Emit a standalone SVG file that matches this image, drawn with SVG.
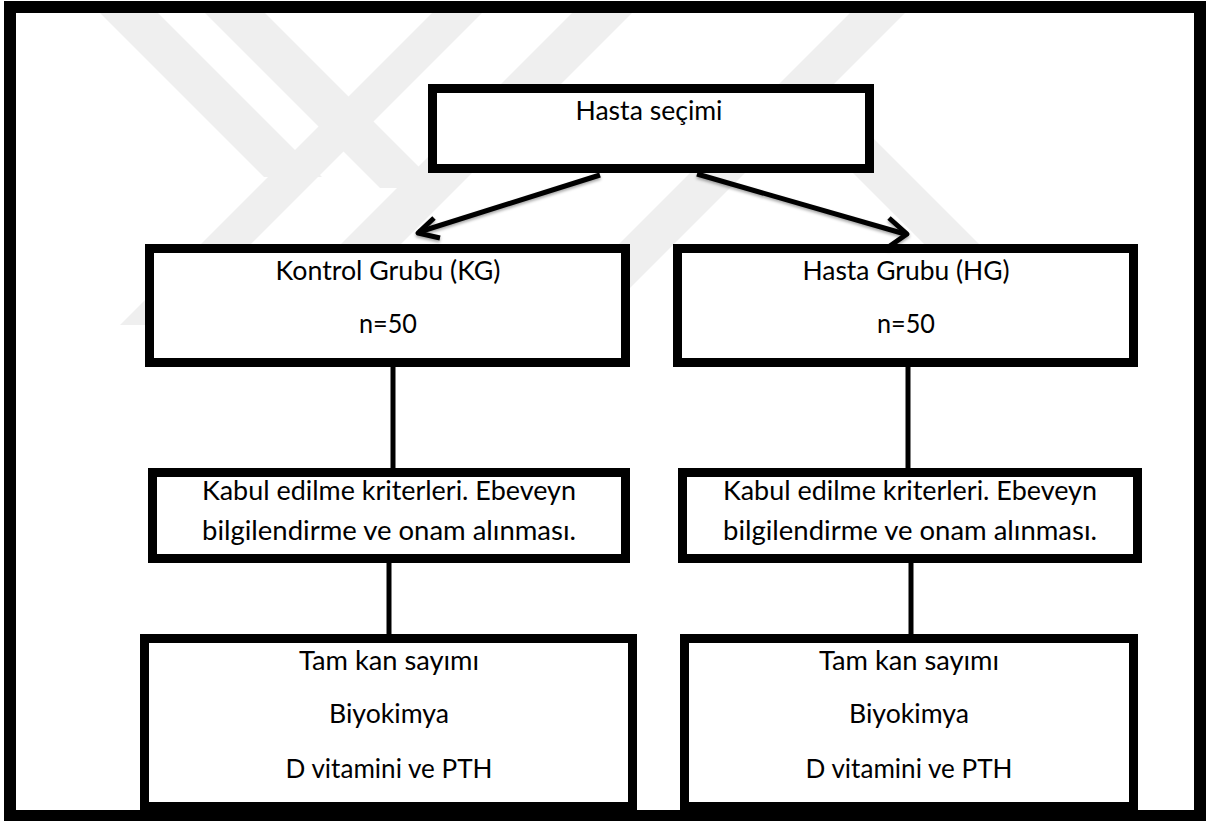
<svg xmlns="http://www.w3.org/2000/svg" width="1211" height="821" viewBox="0 0 1211 821">
<style>
.box{fill:#fff;stroke:#000;stroke-width:9}
.frame{fill:#fff;stroke:#000;stroke-width:12}
.wm{fill:#efefef}
.t{font-family:Lato,"Liberation Sans",sans-serif;font-size:26.5px;fill:#000;text-anchor:middle}
.c{stroke:#000;fill:none;stroke-width:5;stroke-linejoin:round}
</style>
<defs>
<clipPath id="inner"><rect x="16" y="13" width="1178" height="312"/></clipPath>
<filter id="sh" x="-10%" y="-30%" width="120%" height="160%">
<feDropShadow dx="0" dy="2" stdDeviation="1.5" flood-color="#000" flood-opacity="0.35"/>
</filter>
</defs>
<rect class="frame" x="10" y="7" width="1190" height="809"/>
<g id="watermark" clip-path="url(#inner)">
<polygon class="wm" points="432,13 482,13 170,325 120,325"/>
<polygon class="wm" points="100,13 158,13 322,177 264,177"/>
<polygon class="wm" points="572,13 632,13 320,325 260,325"/>
<polygon class="wm" points="205,13 265,13 440,188 380,188"/>
<polygon class="wm" points="850,13 905,13 593,325 538,325"/>
<polygon class="wm" points="790,110 845,110 1060,325 1005,325"/>
</g>
<g id="n-hasta-secimi">
<rect class="box" x="432.5" y="88.5" width="437" height="80"/>
<text class="t" x="649" y="120" textLength="147" lengthAdjust="spacingAndGlyphs">Hasta seçimi</text>
</g>
<g id="n-kg">
<rect class="box" x="149.5" y="248.5" width="476" height="114"/>
<text class="t" x="388" y="280" textLength="225" lengthAdjust="spacingAndGlyphs">Kontrol Grubu (KG)</text>
<text class="t" x="388" y="333" textLength="58" lengthAdjust="spacingAndGlyphs">n=50</text>
</g>
<g id="n-hg">
<rect class="box" x="677.5" y="248.5" width="456" height="114"/>
<text class="t" x="906" y="280" textLength="207" lengthAdjust="spacingAndGlyphs">Hasta Grubu (HG)</text>
<text class="t" x="906" y="333" textLength="58" lengthAdjust="spacingAndGlyphs">n=50</text>
</g>
<g id="n-kabul-kg">
<rect class="box" x="152.5" y="472.5" width="473" height="86"/>
<text class="t" x="389" y="500" textLength="374" lengthAdjust="spacingAndGlyphs">Kabul edilme kriterleri. Ebeveyn</text>
<text class="t" x="389" y="540" textLength="374" lengthAdjust="spacingAndGlyphs">bilgilendirme ve onam alınması.</text>
</g>
<g id="n-kabul-hg">
<rect class="box" x="682.5" y="472.5" width="455" height="86"/>
<text class="t" x="910" y="500" textLength="374" lengthAdjust="spacingAndGlyphs">Kabul edilme kriterleri. Ebeveyn</text>
<text class="t" x="910" y="540" textLength="374" lengthAdjust="spacingAndGlyphs">bilgilendirme ve onam alınması.</text>
</g>
<g id="n-tests-kg">
<rect class="box" x="144.5" y="638.5" width="488" height="168"/>
<text class="t" x="389" y="670" textLength="180" lengthAdjust="spacingAndGlyphs">Tam kan sayımı</text>
<text class="t" x="389" y="723" textLength="120" lengthAdjust="spacingAndGlyphs">Biyokimya</text>
<text class="t" x="389" y="778" textLength="207" lengthAdjust="spacingAndGlyphs">D vitamini ve PTH</text>
</g>
<g id="n-tests-hg">
<rect class="box" x="684.5" y="638.5" width="449" height="168"/>
<text class="t" x="909" y="670" textLength="180" lengthAdjust="spacingAndGlyphs">Tam kan sayımı</text>
<text class="t" x="909" y="723" textLength="120" lengthAdjust="spacingAndGlyphs">Biyokimya</text>
<text class="t" x="909" y="778" textLength="207" lengthAdjust="spacingAndGlyphs">D vitamini ve PTH</text>
</g>
<g id="connectors">
<g filter="url(#sh)">
<line class="c" x1="600" y1="175" x2="419" y2="232"/>
<polyline class="c" points="434,218 418,233 440,238"/>
<line class="c" x1="697" y1="174" x2="905" y2="234"/>
<polyline class="c" points="889,218 907,234 887,248"/>
</g>
<line class="c" x1="393" y1="367" x2="393" y2="468"/>
<line class="c" x1="908" y1="367" x2="908" y2="468"/>
<line class="c" x1="389" y1="563" x2="389" y2="634"/>
<line class="c" x1="911" y1="563" x2="911" y2="634"/>
</g>
</svg>
